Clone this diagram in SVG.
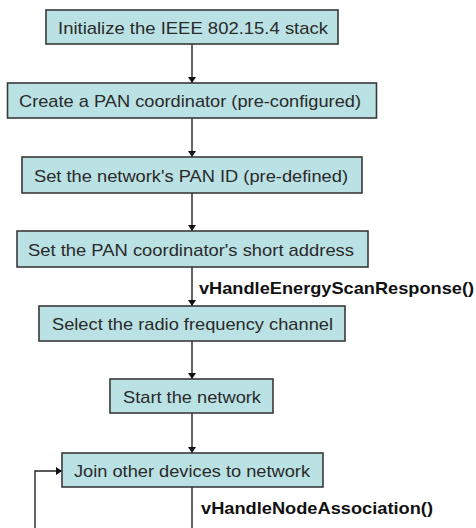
<svg xmlns="http://www.w3.org/2000/svg" width="476" height="528" viewBox="0 0 476 528">
<defs>
<style>
.box{fill:#BAE1E4;stroke:#3a3a3a;stroke-width:1.6}
.t{font-family:"Liberation Sans",Arial,sans-serif;font-size:17px;fill:#2a2a2a;text-anchor:start}
.lb{font-family:"Liberation Sans",Arial,sans-serif;font-size:17px;font-weight:bold;fill:#111}
.ln{stroke:#222;stroke-width:1.4;fill:none}
</style>
<marker id="ah" viewBox="0 0 6 8" refX="6" refY="4" markerWidth="6" markerHeight="8" markerUnits="userSpaceOnUse" orient="auto">
<path d="M0,0 L6,4 L0,8 Z" fill="#111"/>
</marker>
</defs>
<rect width="476" height="528" fill="#fff"/>
<g id="connectors">
<line class="ln" x1="192" y1="44" x2="192" y2="83" marker-end="url(#ah)"/>
<line class="ln" x1="192" y1="118" x2="192" y2="157" marker-end="url(#ah)"/>
<line class="ln" x1="192" y1="193" x2="192" y2="231" marker-end="url(#ah)"/>
<line class="ln" x1="192" y1="267" x2="192" y2="306" marker-end="url(#ah)"/>
<line class="ln" x1="192" y1="341" x2="192" y2="379" marker-end="url(#ah)"/>
<line class="ln" x1="192" y1="413" x2="192" y2="453" marker-end="url(#ah)"/>
<line class="ln" x1="192" y1="487" x2="192" y2="528"/>
<polyline class="ln" points="35,528 35,471 62,471" marker-end="url(#ah)"/>
<text class="lb" x="199" y="294" textLength="275" lengthAdjust="spacingAndGlyphs">vHandleEnergyScanResponse()</text>
<text class="lb" x="201" y="514" textLength="232" lengthAdjust="spacingAndGlyphs">vHandleNodeAssociation()</text>
</g>
<g id="n1"><rect class="box" x="46" y="10" width="292" height="34"/><text class="t" x="58" y="33.5" textLength="270" lengthAdjust="spacingAndGlyphs">Initialize the IEEE 802.15.4 stack</text></g>
<g id="n2"><rect class="box" x="7.5" y="83" width="369" height="35"/><text class="t" x="19" y="107" textLength="342" lengthAdjust="spacingAndGlyphs">Create a PAN coordinator (pre-configured)</text></g>
<g id="n3"><rect class="box" x="22" y="157" width="340" height="36"/><text class="t" x="34" y="181.5" textLength="314" lengthAdjust="spacingAndGlyphs">Set the network's PAN ID (pre-defined)</text></g>
<g id="n4"><rect class="box" x="17" y="231" width="351" height="36"/><text class="t" x="28" y="255.5" textLength="326" lengthAdjust="spacingAndGlyphs">Set the PAN coordinator's short address</text></g>
<g id="n5"><rect class="box" x="39" y="306" width="306" height="35"/><text class="t" x="52" y="330" textLength="281" lengthAdjust="spacingAndGlyphs">Select the radio frequency channel</text></g>
<g id="n6"><rect class="box" x="110" y="379" width="163" height="34"/><text class="t" x="123" y="402.5" textLength="138" lengthAdjust="spacingAndGlyphs">Start the network</text></g>
<g id="n7"><rect class="box" x="62" y="453" width="261" height="34"/><text class="t" x="74" y="476.5" textLength="236" lengthAdjust="spacingAndGlyphs">Join other devices to network</text></g>
</svg>
